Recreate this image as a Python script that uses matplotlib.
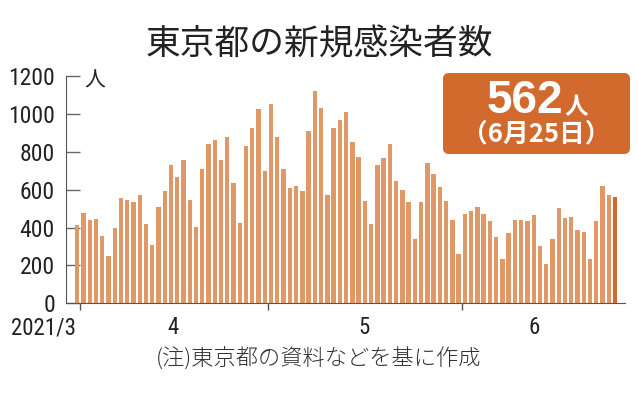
import matplotlib
matplotlib.use('Agg')
import matplotlib.pyplot as plt
from matplotlib.patches import FancyBboxPatch
import numpy as np
import pandas as pd

plt.rcParams['font.family'] = ['Noto Sans CJK JP', 'DejaVu Sans']

# daily new cases in Tokyo, 2021-03-31 .. 2021-06-25
dates = pd.date_range('2021-03-31', '2021-06-25')
cases = [414,
         475, 440, 446, 355, 249, 399, 555, 545, 537, 570, 421, 306, 510, 591, 729,
         667, 759, 543, 405, 711, 843, 861, 759, 876, 635, 425, 828, 925, 1027, 698,
         1050, 879, 708, 609, 621, 591, 907, 1121, 1032, 573, 925, 969, 1010, 854, 772,
         542, 419, 732, 766, 843, 645, 600, 535, 340, 535, 743, 684, 614, 539, 440, 260,
         471, 487, 508, 472, 436, 351, 235, 369, 440, 439, 435, 467, 304, 209, 337,
         501, 452, 453, 388, 376, 236, 435, 619, 570, 562]
month_labels = ['2021/3', '4', '5', '6']
y_ticks = [0, 200, 400, 600, 800, 1000, 1200]

title = '東京都の新規感染者数'
unit = '人'
latest_value = '562'
latest_date = '（6月25日）'
note = '(注)東京都の資料などを基に作成'

bar_color = '#e09866'
hi_color = '#d2692d'
num_font = ['Liberation Sans Narrow', 'Roboto Condensed', 'DejaVu Sans']

fig = plt.figure(figsize=(6.38, 3.96), dpi=100)
ax = fig.add_axes([66 / 638, 92.7 / 396, 559 / 638, 227.3 / 396])

x = np.arange(len(cases))
colors = [bar_color] * (len(cases) - 1) + [hi_color]
ax.bar(x, cases, width=0.7, color=colors, zorder=2)

ax.set_xlim(-1.79, 87.6)
ax.set_ylim(0, 1200)
for s in ['top', 'right']:
    ax.spines[s].set_visible(False)
ax.spines['left'].set_color('#555555')
ax.spines['bottom'].set_color('#555555')

ax.set_yticks(y_ticks)
ax.set_yticklabels([str(v) for v in y_ticks], family=num_font, fontsize=17, color='#222222')
ax.tick_params(axis='y', direction='in', length=10, width=1, color='#666666', pad=8)

# month boundaries
months = dates.month.values
bounds = [i - 0.5 for i in range(1, len(months)) if months[i] != months[i - 1]]
ax.set_xticks(bounds)
ax.set_xticklabels([])
ax.tick_params(axis='x', direction='out', length=5, width=1, color='#555555')

# month labels
xt = ax.get_xaxis_transform()
ax.text(bounds[0] - 0.7, -0.108, month_labels[0], transform=xt, ha='right', va='center',
        family=num_font, fontsize=16.5, color='#222222')
mids = [15.4, 45.9, 73.0]
for lab, m in zip(month_labels[1:], mids):
    ax.text(m, -0.108, lab, transform=xt, ha='center', va='center',
            family=num_font, fontsize=16.5, color='#222222')

ax.text(0.052, 0.982, unit, transform=ax.transAxes, ha='center', va='center',
        fontsize=15, color='#222222')

fig.text(0.5, 0.886, title, ha='center', va='center', fontsize=25, color='#222222')
fig.text(0.5, 1 - 359 / 396, note, ha='center', va='center', fontsize=16,
         color='#333333', fontweight='light')

# highlight box
box = FancyBboxPatch((4.43, 2.42), 1.87, 0.81, boxstyle='round,pad=0,rounding_size=0.06',
                     transform=fig.dpi_scale_trans, facecolor=hi_color, edgecolor='none')
fig.patches.append(box)
fig.text(563 / 638, 1 - 113 / 396, latest_value, ha='right', va='baseline',
         family=['Liberation Sans', 'DejaVu Sans'], fontweight='bold', fontsize=33, color='white')
fig.text(564 / 638, 1 - 114 / 396, unit, ha='left', va='baseline',
         fontweight='bold', fontsize=17, color='white')
fig.text(536.5 / 638, 1 - 134 / 396, latest_date, ha='center', va='center',
         fontweight='bold', fontsize=18.5, color='white')

fig.savefig('out.png', dpi=100)
